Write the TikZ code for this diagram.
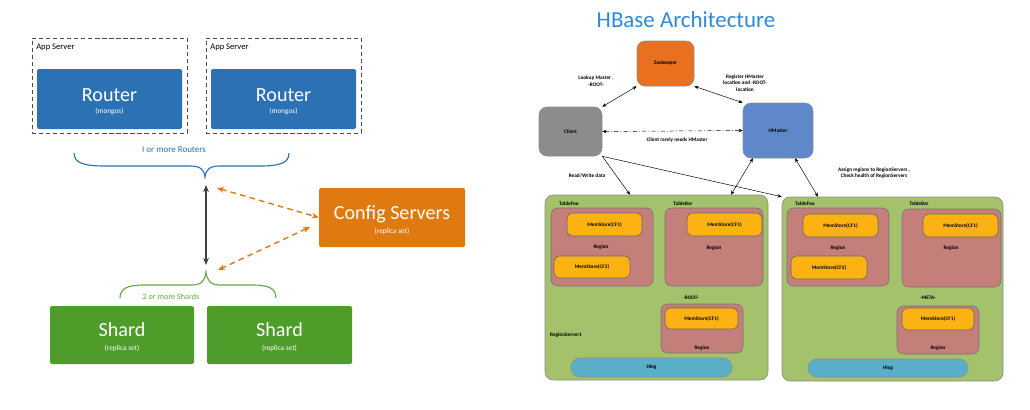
\documentclass[tikz,border=0pt]{standalone}
\usepackage{fontspec}
\setmainfont{Carlito}
\usetikzlibrary{arrows.meta}

\definecolor{routerblue}{HTML}{2B71B4}
\definecolor{configorange}{HTML}{E07A10}
\definecolor{shardgreen}{HTML}{4E9C2A}
\definecolor{bracegreen}{HTML}{62AD40}
\definecolor{titleblue}{HTML}{2F8AD8}
\definecolor{zkorange}{HTML}{E8701E}
\definecolor{clientgray}{HTML}{8C8C8C}
\definecolor{masterblue}{HTML}{5F88CA}
\definecolor{rsgreen}{HTML}{A3C26B}
\definecolor{regionred}{HTML}{C47F7B}
\definecolor{memyellow}{HTML}{FDB214}
\definecolor{hlogblue}{HTML}{5AAEC8}

\tikzset{
  boxw/.style={minimum width=#1*0.025cm},
  boxh/.style={minimum height=#1*0.025cm},
  appbox/.style={draw=black!70, densely dashed, line width=0.5pt},
  bigbox/.style={fill=#1, inner sep=0pt, rounded corners=1.5pt},
  bigtext/.style={text=white, inner sep=0pt, font=\fontsize{14.3}{16}\selectfont},
  subtext/.style={text=white, inner sep=0pt, font=\fontsize{5.2}{6}\selectfont},
  smalltext/.style={inner sep=0pt, font=\fontsize{6.1}{7}\selectfont},
  hbox/.style={fill=#1, draw=black!45, line width=0.4pt, inner sep=0pt, rounded corners=0.2cm},
  regionbox/.style={fill=regionred, draw=black!55, line width=0.4pt, inner sep=0pt, rounded corners=0.17cm},
  membox/.style={fill=memyellow, draw=black!60, line width=0.4pt, inner sep=0pt, rounded corners=0.15cm},
  tinytext/.style={inner sep=0pt, align=center, font=\fontsize{3.75}{4.5}\selectfont\bfseries},
  harrow/.style={line width=0.35pt, >={Stealth[length=3pt,width=2.4pt]}},
}

\begin{document}
\begin{tikzpicture}[x=0.025cm, y=-0.025cm]
\useasboundingbox (0,0) rectangle (1030,409);
\fill[white] (0,0) rectangle (1030,409);

% sharded cluster
\node[appbox, boxw=155, boxh=95] (appA) at (109.5,85.5) {};
\node[appbox, boxw=155, boxh=95] (appB) at (283.5,85.5) {};
\node[smalltext, anchor=north west] (appAtext) at (36,44) {App Server};
\node[smalltext, anchor=north west] (appBtext) at (210,44) {App Server};

\node[bigbox=routerblue, boxw=145, boxh=60] (routerA) at (109.5,99) {};
\node[bigbox=routerblue, boxw=145, boxh=60] (routerB) at (283.5,99) {};
\node[bigtext] (routerAtext) at (109.5,95) {Router};
\node[subtext] (routerAsub) at (109.5,111) {(mongos)};
\node[bigtext] (routerBtext) at (283.5,95) {Router};
\node[subtext] (routerBsub) at (283.5,111) {(mongos)};

\draw[routerblue, line width=0.8pt] (74,153) .. controls (74,163) and (84,166) .. (105,166) -- (190,166)
  .. controls (200,166) and (204,169) .. (205,177) .. controls (206,169) and (210,166) .. (220,166)
  -- (260,166) .. controls (280,166) and (289,163) .. (289,153);
\node[smalltext, text=routerblue, font=\fontsize{6.4}{7}\selectfont] (routersText) at (174,150) {I or more Routers};

\node[bigbox=configorange, boxw=146, boxh=59] (config) at (392,217.5) {};
\node[bigtext] (configText) at (392,214) {Config Servers};
\node[subtext] (configSub) at (392,231) {(replica set)};

\draw[bracegreen, line width=0.8pt] (120,298) .. controls (120,288) and (128,285) .. (145,285) -- (192,285)
  .. controls (202,285) and (205,280) .. (206,272) .. controls (207,280) and (210,285) .. (220,285)
  -- (252,285) .. controls (268,285) and (276,288) .. (276,298);
\node[smalltext, text=bracegreen, font=\fontsize{5.8}{7}\selectfont] (shardsText) at (171,297) {2 or more Shards};

\node[bigbox=shardgreen, boxw=144, boxh=58] (shardA) at (122,335) {};
\node[bigbox=shardgreen, boxw=145, boxh=58] (shardB) at (279.5,335) {};
\node[bigtext] (shardAtext) at (122,330) {Shard};
\node[subtext] (shardAsub) at (122,348) {(replica set)};
\node[bigtext] (shardBtext) at (279.5,330) {Shard};
\node[subtext] (shardBsub) at (279.5,348) {(replica set)};

\coordinate (routersTip) at (206,185);
\coordinate (shardsTip) at (206,265);
\coordinate (orangeTop) at (217,188);
\coordinate (orangeBottom) at (218,270);
\coordinate (configLow) at (310,227);
\draw[black!75, line width=1.1pt, {Stealth[length=5pt,width=4pt]}-{Stealth[length=5pt,width=4pt]}] (routersTip) -- (shardsTip);
\draw[configorange, line width=1pt, dash pattern=on 4pt off 3pt, {Stealth[length=5pt,width=4pt]}-{Stealth[length=5pt,width=4pt]}] (orangeTop) -- (config.west);
\draw[configorange, line width=1pt, dash pattern=on 4pt off 3pt, {Stealth[length=5pt,width=4pt]}-{Stealth[length=5pt,width=4pt]}] (configLow) -- (orangeBottom);

% hbase
\node[text=titleblue, inner sep=0pt, font=\fontsize{16.3}{19}\selectfont] (title) at (686,20) {HBase Architecture};

\node[hbox=zkorange, boxw=57, boxh=45, tinytext] (zk) at (665.5,63.5) {Zookeeper};
\node[hbox=clientgray, boxw=63, boxh=49, tinytext] (client) at (570.5,131.5) {Client};
\node[hbox=masterblue, boxw=70, boxh=55, tinytext] (hmaster) at (778,130.5) {HMaster};

\node[hbox=rsgreen, boxw=223, boxh=185] (rs1) at (656.5,287.5) {};
\node[hbox=rsgreen, boxw=221, boxh=184] (rs2) at (892.5,289) {};

% regionserver 1
\node[tinytext] (rs1foo) at (569,204) {TableFoo};
\node[tinytext] (rs1bar) at (683,204) {TableBar};
\node[regionbox, boxw=102, boxh=78] (r1a) at (602,247) {};
\node[regionbox, boxw=98, boxh=78] (r1b) at (714,247) {};
\node[regionbox, boxw=82, boxh=49] (r1c) at (702,328.5) {};
\node[membox, boxw=75, boxh=23, tinytext] (m1a) at (604.5,224.5) {MemStore(CF1)};
\node[membox, boxw=76, boxh=22, tinytext] (m1b) at (592,267) {MemStore(CF2)};
\node[membox, boxw=75, boxh=23, tinytext] (m1c) at (724.5,224.5) {MemStore(CF1)};
\node[membox, boxw=73, boxh=21, tinytext] (m1d) at (701.5,318.5) {MemStore(CF1)};
\node[tinytext] (r1atext) at (601,247) {Region};
\node[tinytext] (r1btext) at (714,248) {Region};
\node[tinytext] (r1ctext) at (702,348) {Region};
\node[tinytext] (rootText) at (691,298) {-ROOT-};
\node[tinytext] (rs1text) at (566,335) {RegionServer1};
\node[hbox=hlogblue, boxw=161, boxh=19, rounded corners=0.23cm, tinytext] (hlog1) at (651.5,367.5) {Hlog};

% regionserver 2
\node[tinytext] (rs2foo) at (805,204) {TableFoo};
\node[tinytext] (rs2bar) at (919,204) {TableBar};
\node[regionbox, boxw=102, boxh=78] (r2a) at (838,247) {};
\node[regionbox, boxw=99, boxh=78] (r2b) at (951.5,248) {};
\node[regionbox, boxw=82, boxh=48] (r2c) at (938,330) {};
\node[membox, boxw=75, boxh=23, tinytext] (m2a) at (840.5,225.5) {MemStore(CF1)};
\node[membox, boxw=76, boxh=23, tinytext] (m2b) at (829,267.5) {MemStore(CF2)};
\node[membox, boxw=75, boxh=23, tinytext] (m2c) at (960.5,225.5) {MemStore(CF1)};
\node[membox, boxw=72, boxh=22, tinytext] (m2d) at (938,319) {MemStore(CF1)};
\node[tinytext] (r2atext) at (838,248) {Region};
\node[tinytext] (r2btext) at (951,248) {Region};
\node[tinytext] (r2ctext) at (938,348) {Region};
\node[tinytext] (metaText) at (928,298) {-META-};
\node[hbox=hlogblue, boxw=160, boxh=18, rounded corners=0.22cm, tinytext] (hlog2) at (888,368) {Hlog};

% connectors
\draw[harrow, <->] (zk.south west) -- (client.north east);
\draw[harrow, <->] (zk.south east) -- (hmaster.north west);
\draw[harrow, <->, dash pattern=on 3pt off 1.5pt on 0.6pt off 1.5pt] (client.east) -- (hmaster.west);
\draw[harrow, ->] (client.south east) -- (630,0 |- rs1.north);
\draw[harrow, ->] (client.south east) -- (rs2.north west);
\draw[harrow, <->] (753,0 |- hmaster.south) -- (731,0 |- rs1.north);
\draw[harrow, <->] (795,0 |- hmaster.south) -- (818,0 |- rs2.north);

\node[tinytext] (lookupText) at (596,81) {Lookup Master ,\\-ROOT-};
\node[tinytext] (registerText) at (745,83) {Register HMaster\\location and -ROOT-\\location};
\node[tinytext] (rarelyText) at (677,140) {Client rarely needs HMaster};
\node[tinytext] (rwText) at (587,176) {Read/Write data};
\node[tinytext] (assignText) at (874,173) {Assign regions to RegionServers ,\\Check health of RegionServers};

\end{tikzpicture}
\end{document}
